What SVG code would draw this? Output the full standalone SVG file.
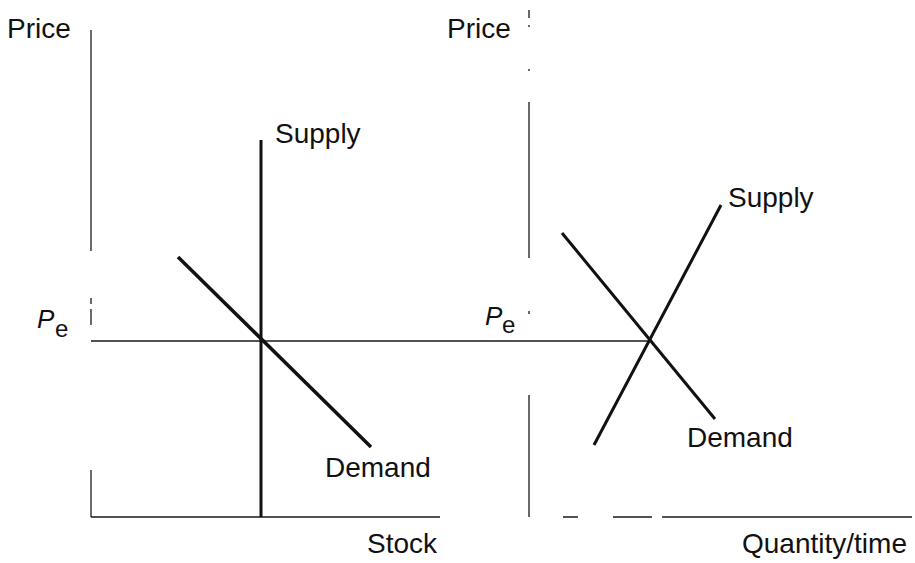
<svg xmlns="http://www.w3.org/2000/svg" width="915" height="563" viewBox="0 0 915 563">
<style>
.ax{stroke:#1a1a1a;stroke-width:1.3;fill:none}
.cv{stroke:#111;stroke-width:3;fill:none;stroke-linecap:butt}
.t{font-family:"Liberation Sans",Arial,sans-serif;font-size:28px;fill:#111}
.it{font-family:"Liberation Sans",Arial,sans-serif;font-size:26px;font-style:italic;fill:#111}
.sub{font-family:"Liberation Sans",Arial,sans-serif;font-size:24px;fill:#111}
</style>
<rect width="915" height="563" fill="#fff"/>
<g id="left-axes">
<path class="ax" d="M91,30V251M91,298V304M91,309V325M91,470V517M91,341H650M91,517H440"/>
</g>
<g id="right-axes">
<path class="ax" d="M529,10V18M529,25V27M529,69V71M529,102V258M529,311V314M529,395V517M563,517H578M613,517H652M662,517H912"/>
</g>
<g id="connectors">
<line class="cv" x1="261" y1="140" x2="261" y2="517"/>
<line class="cv" x1="178" y1="257" x2="371" y2="447" style="stroke-width:3.5"/>
<line class="cv" x1="562" y1="233" x2="715" y2="419"/>
<line class="cv" x1="594" y1="445" x2="721" y2="205"/>
</g>
<g id="labels-left">
<text class="t" x="7" y="38">Price</text>
<text class="t" x="275" y="143">Supply</text>
<text class="it" x="37" y="328">P</text><text class="sub" x="55" y="337">e</text>
<text class="t" x="325" y="477">Demand</text>
<text class="t" x="367" y="553">Stock</text>
</g>
<g id="labels-right">
<text class="t" x="447" y="38">Price</text>
<text class="t" x="728" y="207">Supply</text>
<text class="it" x="485" y="325">P</text><text class="sub" x="502" y="333">e</text>
<text class="t" x="687" y="447">Demand</text>
<text class="t" x="742" y="553">Quantity/time</text>
</g>
</svg>
